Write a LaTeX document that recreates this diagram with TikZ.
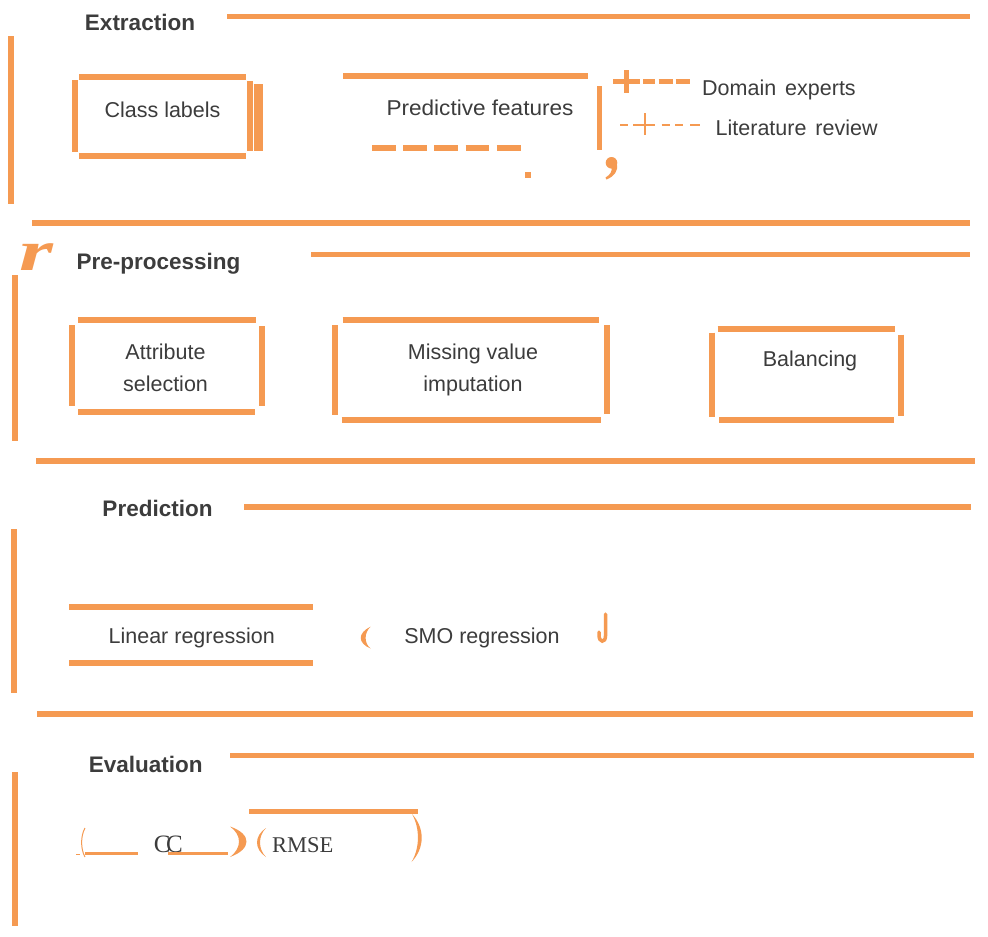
\documentclass[tikz,border=0pt]{standalone}
\usepackage{fontspec}
\setmainfont{Liberation Sans}
\newfontfamily\serifx{Liberation Serif}
\definecolor{orng}{RGB}{245,154,82}
\definecolor{txtg}{RGB}{60,60,60}
\tikzset{
  ol/.style={draw=orng, line width=5.5pt, line cap=butt},
  bl/.style={draw=orng, line width=6pt, line cap=butt},
  tl/.style={draw=orng, line width=2pt, line cap=butt},
  ofill/.style={fill=orng, draw=none},
  txt/.style={inner sep=0pt, text=txtg, font=\fontsize{21.5}{24}\selectfont, anchor=base},
  hd/.style={inner sep=0pt, text=txtg, font=\fontsize{22.5}{26}\selectfont\bfseries, anchor=base},
}
\begin{document}
\begin{tikzpicture}[x=1pt,y=-1pt]
\useasboundingbox[fill=white] (0,0) rectangle (988,937);

% ---------------- Extraction ----------------
\node[hd] (hext) at (140,30) {Extraction};
\draw[ol] (227,16.7) -- (970,16.7);
\draw[ol] (10.8,36) -- (10.8,204);
% Class labels box
\draw[bl] (79,77) -- (246,77);
\draw[bl] (79,155.5) -- (246,155.5);
\draw[bl] (75,80) -- (75,152);
\draw[ol] (250,81) -- (250,151);
\draw[draw=orng, line width=9pt] (258.5,84) -- (258.5,151);
\node[txt] (cls) at (162.5,117) {Class labels};
% Predictive features
\draw[bl] (343,76) -- (588,76);
\node[txt, xscale=1.05, transform shape] (pred) at (480,115) {Predictive features};
\foreach \a in {372,403.2,434.4,465.6,496.8}{
  \draw[ol] (\a,148) -- ++(23.8,0);
}
\fill[orng] (525,172) rectangle (531,178.3);
\draw[ol] (599.5,86) -- (599.5,149.5);
% comma
\fill[orng] (611.5,162.8) circle (5.8);
\fill[orng] (616.8,164) .. controls (618.5,171) and (614,176.5) .. (606.5,179.5)
  -- (605.5,177.6) .. controls (610.5,174.5) and (612.5,171) .. (611.5,167) -- cycle;
% Domain experts legend
\draw[draw=orng, line width=5pt] (613,81.7) -- (640,81.7);
\draw[draw=orng, line width=5.5pt] (626.3,70) -- (626.3,93.3);
\draw[draw=orng, line width=5pt] (643,81.7) -- (655,81.7);
\draw[draw=orng, line width=5pt] (658.5,81.7) -- (672.5,81.7);
\draw[draw=orng, line width=5pt] (675.5,81.7) -- (690,81.7);
\node[txt, anchor=base west] (dom) at (702,95.5) {Domain\hspace{3pt} experts};
% Literature review legend
\draw[tl] (620,124.5) -- (628.3,124.5);
\draw[tl] (633.3,124.5) -- (655,124.5);
\draw[tl] (645,113.3) -- (645,135);
\draw[tl] (661.7,124.5) -- (670,124.5);
\draw[tl] (675,124.5) -- (683.3,124.5);
\draw[tl] (690,124.5) -- (700,124.5);
\node[txt, anchor=base west] (lit) at (715.5,135) {Literature\hspace{3pt} review};

\draw[ol] (32,223) -- (970,223);

% ---------------- Pre-processing ----------------
\node[inner sep=0pt, text=orng, xscale=1.45, yscale=0.95, transform shape, font=\serifx\fontsize{60}{60}\selectfont\bfseries\itshape] (rr) at (36,257) {r};
\node[hd] (hpre) at (158.5,269.3) {Pre-processing};
\draw[ol] (311,254.5) -- (970,254.5);
\draw[ol] (14.8,275) -- (14.8,440.7);
% Attribute selection
\draw[bl] (78.3,320.3) -- (255.7,320.3);
\draw[bl] (78,412) -- (255,412);
\draw[bl] (72.3,325) -- (72.3,406);
\draw[bl] (262,326) -- (262,406);
\node[txt] (att1) at (165.5,359.5) {Attribute};
\node[txt] (att2) at (165.5,391) {selection};
% Missing value imputation
\draw[bl] (342.7,320) -- (599.3,320);
\draw[bl] (341.7,420) -- (600.7,420);
\draw[bl] (335,325) -- (335,415);
\draw[bl] (607,325) -- (607,414);
\node[txt] (mis1) at (473,359.3) {Missing value};
\node[txt] (mis2) at (473,391.7) {imputation};
% Balancing
\draw[bl] (717.7,329) -- (895,329);
\draw[bl] (719,420.3) -- (894.3,420.3);
\draw[bl] (712,332.7) -- (712,416.7);
\draw[bl] (901,334.7) -- (901,415.7);
\node[txt] (bal) at (810,366.7) {Balancing};

\draw[ol] (36,461) -- (975,461);

% ---------------- Prediction ----------------
\node[hd] (hprd) at (157.5,516) {Prediction};
\draw[ol] (244.3,507) -- (971,507);
\draw[ol] (14,529.3) -- (14,692.7);
\draw[bl] (69.3,606.7) -- (312.7,606.7);
\draw[bl] (69.3,663) -- (312.7,663);
\node[txt] (lin) at (191.7,643.3) {Linear regression};
\fill[orng] (370.5,626.7) .. controls (357.5,633) and (357.5,643) .. (370.5,648.5)
  .. controls (364,643) and (364,633) .. (370.5,626.7) -- cycle;
\node[txt] (smo) at (482,643.3) {SMO regression};
\draw[draw=orng, line width=3.5pt, line cap=round] (605.5,614) -- (605.5,636)
  .. controls (605.5,643) and (599,643) .. (599,635) -- (599,632);

\draw[ol] (37,714) -- (973,714);

% ---------------- Evaluation ----------------
\node[hd] (heva) at (145.7,772.7) {Evaluation};
\draw[ol] (230,755.5) -- (974,755.5);
\draw[ol] (14.8,772.3) -- (14.8,925.7);
% CC
\draw[draw=orng, line width=1pt] (85,828) .. controls (80.5,836) and (80.5,849) .. (85,857);
\draw[draw=orng, line width=1pt] (76,854) -- (80,854);
\draw[draw=orng, line width=3pt] (85,853.7) -- (137.7,853.7);
\node[inner sep=0pt, text=txtg, anchor=base, font=\serifx\fontsize{25}{28}\selectfont] (cc) at (168.3,852) {C\kern-4.5pt C};
\draw[draw=orng, line width=3pt] (168.3,853.7) -- (227.7,853.7);
\fill[orng] (230,826.5) .. controls (252,834) and (252,849) .. (230,857)
  .. controls (242,848) and (242,835) .. (230,826.5) -- cycle;
% RMSE
\fill[orng] (266,828) .. controls (254,836) and (254,849) .. (266,857)
  .. controls (258,849) and (258,836) .. (266,828) -- cycle;
\node[inner sep=0pt, text=txtg, anchor=base west, font=\serifx\fontsize{22.5}{26}\selectfont] (rmse) at (272,852) {RMSE};
\draw[draw=orng, line width=5pt] (249.3,811.8) -- (418.3,811.8);
\fill[orng] (412,814) .. controls (425,828) and (425,848) .. (411.5,862)
  .. controls (420,848) and (420,828) .. (412,814) -- cycle;
\end{tikzpicture}
\end{document}
